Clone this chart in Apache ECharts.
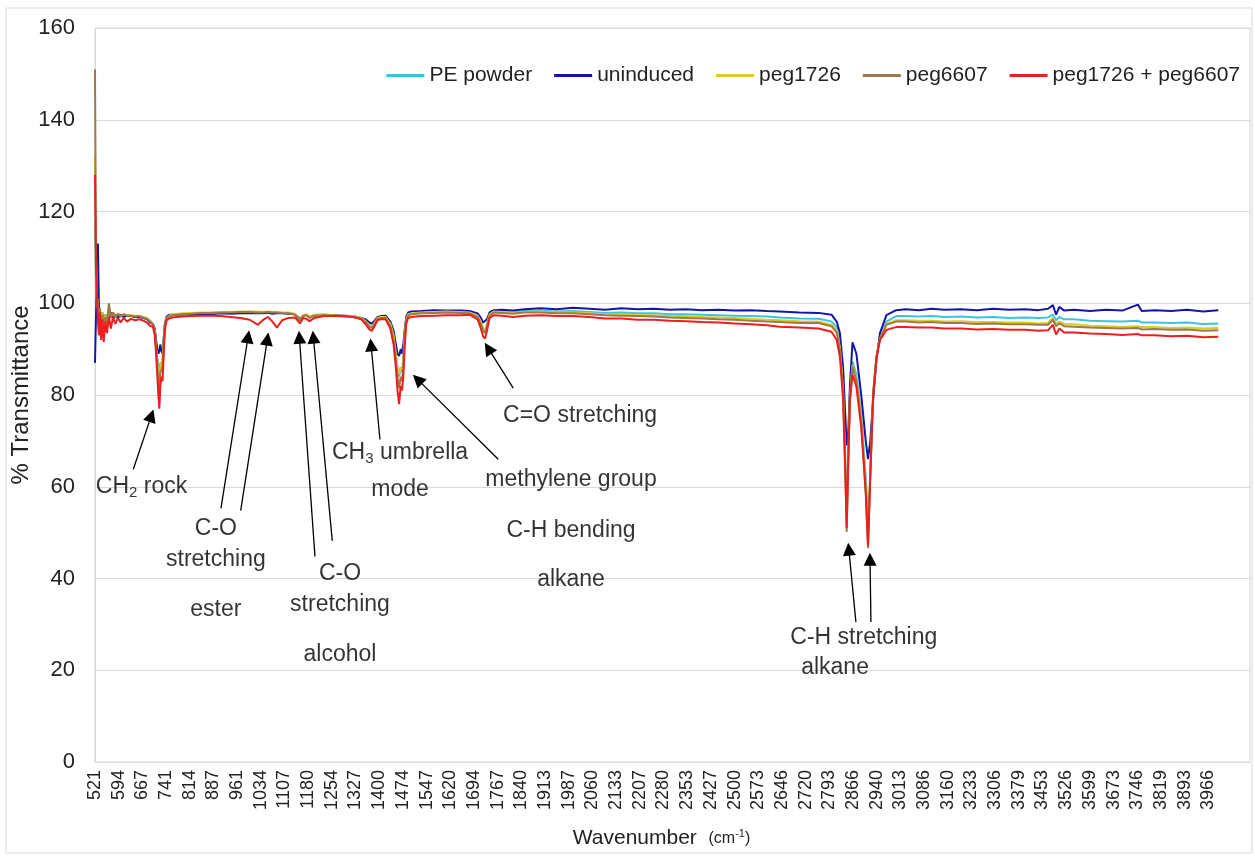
<!DOCTYPE html>
<html>
<head>
<meta charset="utf-8">
<script src="https://cdn.jsdelivr.net/npm/echarts@6/dist/echarts.min.js"></script>
<style>
  html, body { margin: 0; padding: 0; background: #fff; }
  #ftir { width: 1255px; height: 856px; }
</style>
</head>
<body>
<div id="ftir"></div>
<script>
// wavenumber of each sampled point (cm-1), shared by all five spectra
var wavenumbers = [
  521, 524, 527, 530, 533, 536, 540, 544, 548, 553, 558, 564, 570, 577, 584, 592, 600, 610, 620, 632, 645, 658, 670, 682, 692,
  700, 706, 710, 714, 717, 720, 723, 727, 730, 733, 737, 742, 750,
  760, 790, 820, 850, 880, 910, 940, 970, 1000, 1025, 1040, 1056, 1070, 1084, 1100, 1120, 1140, 1155, 1165, 1175, 1185, 1200, 1230, 1260, 1290, 1320, 1345, 1360, 1370, 1378, 1386, 1395, 1405,
  1420, 1435, 1445, 1452, 1457, 1462, 1467, 1471, 1475, 1479, 1484, 1490, 1500,
  1530, 1570, 1610, 1650,
  1680, 1705, 1715, 1722, 1728, 1734, 1742, 1755,
  1780, 1815, 1850, 1900, 1950, 2000, 2050, 2100, 2150, 2200, 2250, 2300, 2350, 2400, 2450, 2500, 2550, 2600, 2640, 2700, 2760, 2800,
  2816, 2826, 2836, 2843, 2847, 2852, 2857, 2865, 2877, 2892, 2906, 2913, 2920, 2929, 2939, 2950, 2970, 3000,
  3030, 3070, 3110, 3150, 3200, 3250, 3300, 3350, 3400, 3440, 3470, 3485, 3495, 3505, 3520, 3550, 3600, 3650, 3700, 3748, 3760, 3800, 3850, 3900, 3950, 3997
];

// % transmittance
var pePowder = [
  118, 104, 99, 101, 97, 99, 96, 98, 95.5, 97.5, 96, 98.5, 97, 97.8, 96.8, 97.6, 97, 97.5, 97.2, 97.3, 97, 97.2, 96.8, 96.6, 96,
  95.5, 94, 91, 88, 86, 84, 87, 86, 85, 90, 95, 96.6, 97.2,
  97.4, 97.6, 97.7, 97.8, 97.8, 97.9, 98.0, 98.0, 98.0, 98.0, 98.0, 97.9, 98.0, 97.9, 97.9, 97.8, 97.6, 96.3, 97.3, 97.5, 96.9, 97.3, 97.4, 97.3, 97.3, 97.1, 96.7, 96.0, 95.2, 95.0, 95.8, 96.8, 97.0,
  97, 95.5, 93, 89, 86, 84, 86, 85, 88, 93, 96.5, 97.5, 97.7,
  97.9, 98.0, 98.1, 98.0,
  98, 97.3, 96, 94.5, 94, 95.5, 97.6, 98.2,
  98.2, 98.0, 98.3, 98.4, 98.2, 98.3, 98.1, 97.9, 98.0, 97.8, 97.8, 97.6, 97.6, 97.5, 97.4, 97.3, 97.2, 97.1, 96.9, 96.7, 96.6, 96.0,
  94.8, 91.5, 83, 66, 55, 68, 80, 87.3, 84.5, 76, 62, 52, 63, 80, 88, 92.5, 96, 97.2,
  97.2, 97.1, 97.2, 97, 97.1, 96.9, 97, 96.8, 96.9, 96.8, 96.9, 97.5, 96.3, 97, 96.5, 96.5, 96.2, 96.1, 96.0, 96.2, 95.8, 95.8, 95.7, 95.8, 95.5, 95.6
];
var uninduced = [
  87, 97, 105, 113, 100, 96, 98, 95, 97.5, 95, 97.5, 96.5, 98, 96.5, 97.5, 96.8, 97.5, 97, 97.3, 97.2, 97, 97, 96.8, 96.5, 95.8,
  95.5, 94.5, 92, 90, 89, 89.5, 91, 89.5, 89, 92, 95.5, 97, 97.5,
  97.5, 97.6, 97.5, 97.7, 97.6, 97.8, 97.7, 97.8, 97.8, 97.9, 97.8, 97.9, 97.7, 97.8, 97.8, 97.7, 97.6, 96.6, 97.3, 97.5, 97.0, 97.4, 97.5, 97.4, 97.3, 97.2, 96.8, 96.4, 95.8, 95.6, 96.2, 97.0, 97.2,
  97.3, 96, 94, 91, 89, 88.5, 90, 89, 91, 94, 97, 98, 98.2,
  98.3, 98.5, 98.4, 98.4,
  98.3, 97.8, 96.8, 95.8, 95.5, 96.5, 98, 98.5,
  98.6, 98.4, 98.7, 98.9, 98.7, 99.0, 98.8, 98.6, 98.9, 98.7, 98.8, 98.6, 98.7, 98.5, 98.6, 98.4, 98.5, 98.3, 98.2, 98.0, 97.9, 97.5,
  96, 93.5, 86, 75, 69, 72, 82, 91.5, 89, 80, 70, 66, 70, 79, 87.6, 93.5, 97.4, 98.5,
  98.7, 98.5, 98.8, 98.6, 98.7, 98.5, 98.8, 98.6, 98.7, 98.5, 98.8, 99.6, 97.5, 99.2, 98.4, 98.6, 98.3, 98.6, 98.4, 99.7, 98.3, 98.5, 98.3, 98.6, 98.2, 98.5
];
var peg1726 = [
  132, 110, 101, 99, 97, 98.5, 96, 98, 95, 97.5, 96, 99.5, 97, 98, 97, 97.8, 97.2, 97.6, 97.4, 97.4, 97.2, 97.3, 97, 96.8, 96.2,
  95.5, 94, 90.5, 87, 84, 82, 86, 87, 88.5, 91, 95, 96.7, 97.3,
  97.6, 97.8, 97.9, 98.0, 98.0, 98.1, 98.1, 98.2, 98.2, 98.2, 98.1, 98.2, 98.1, 98.1, 98.0, 98.0, 97.7, 96.4, 97.4, 97.6, 97.0, 97.5, 97.6, 97.4, 97.3, 97.2, 96.8, 96.0, 95.2, 94.9, 95.8, 96.8, 97.0,
  97, 95.5, 93, 89, 86, 84.5, 86, 85.5, 88, 93, 96.5, 97.6, 97.8,
  98.0, 98.1, 98.2, 98.1,
  98, 97.3, 96, 94.5, 94, 95.5, 97.6, 98.2,
  98.1, 97.9, 98.1, 98.2, 98.0, 98.0, 97.8, 97.6, 97.6, 97.4, 97.4, 97.2, 97.2, 97.0, 96.9, 96.8, 96.6, 96.4, 96.3, 96.1, 96.0, 95.3,
  94, 90.5, 81, 64, 52, 67, 79.5, 86.5, 83.5, 75, 60, 49, 63, 80.5, 88.4, 92.3, 95.5, 96.3,
  96.3, 96.2, 96.2, 96.0, 96.1, 95.9, 95.9, 95.8, 95.8, 95.6, 95.7, 96.8, 95.5, 96, 95.5, 95.4, 95.1, 95.0, 94.9, 95, 94.8, 94.8, 94.6, 94.7, 94.5, 94.6
];
var peg6607 = [
  151, 112, 99, 101, 96, 99, 95.5, 97.5, 94.5, 97, 95.5, 100, 96.8, 98, 97, 97.7, 97.2, 97.6, 97.3, 97.3, 97.1, 97.2, 96.9, 96.6, 96,
  95.5, 93.5, 90, 86, 83, 80, 85, 85, 86, 90, 95, 96.6, 97.2,
  97.4, 97.6, 97.7, 97.9, 97.9, 98.0, 98.0, 98.1, 98.1, 98.0, 98.0, 98.1, 98.0, 98.0, 97.9, 97.8, 97.5, 96.2, 97.2, 97.4, 96.8, 97.3, 97.4, 97.2, 97.1, 97.0, 96.6, 95.8, 94.9, 94.6, 95.5, 96.6, 96.8,
  96.8, 95, 92, 87.5, 84, 81.5, 84, 83, 86, 92, 96.3, 97.3, 97.6,
  97.8, 97.9, 98.0, 97.9,
  97.8, 97, 95.5, 94, 93.5, 95, 97.3, 98,
  97.9, 97.7, 98.0, 98.0, 97.8, 97.8, 97.6, 97.4, 97.3, 97.2, 97.1, 96.9, 96.8, 96.7, 96.5, 96.4, 96.2, 96.0, 95.9, 95.7, 95.7, 95.0,
  93.6, 90, 80, 63, 50.2, 66, 79, 86.2, 83, 74, 59, 46.6, 62.5, 80.4, 88.4, 92.2, 95.3, 96,
  96, 95.8, 95.9, 95.7, 95.7, 95.5, 95.6, 95.4, 95.4, 95.3, 95.3, 96.4, 95, 95.6, 95.0, 94.9, 94.7, 94.6, 94.5, 94.6, 94.3, 94.4, 94.2, 94.3, 94.0, 94.1
];
var pegBoth = [
  128, 108, 102, 96, 93, 98, 92, 96.5, 91.5, 96, 93.5, 97, 94.5, 97, 95.5, 96.8, 95.8, 96.8, 96, 96.6, 96.3, 96.5, 96.2, 95.8, 95,
  95, 93, 89, 84, 80, 77, 82, 84, 83, 88, 94, 96.2, 96.7,
  96.9, 97.1, 97.2, 97.3, 97.3, 97.2, 97.0, 96.8, 96.4, 95.3, 96.3, 97.0, 96.0, 94.7, 96.3, 96.8, 96.9, 95.6, 96.8, 96.6, 96.1, 96.8, 97.2, 97.3, 97.2, 97.0, 96.5, 95.3, 94.3, 94.0, 95.0, 96.3, 96.5,
  96.5, 94.5, 91, 86, 81, 78, 82, 81, 84, 90, 95.5, 96.8, 97,
  97.2, 97.3, 97.4, 97.4,
  97.5, 96.5, 94.5, 92.8, 92.3, 94, 96.8, 97.4,
  97.3, 97.0, 97.3, 97.4, 97.2, 97.2, 97.0, 96.7, 96.7, 96.4, 96.4, 96.2, 96.1, 95.9, 95.8, 95.6, 95.4, 95.2, 94.9, 94.7, 94.5, 93.8,
  92, 88.4, 78.9, 62.2, 51, 65.8, 78.9, 84.4, 81.8, 73, 58.6, 47.2, 62.2, 80, 88, 92, 94.2, 94.8,
  94.8, 94.7, 94.7, 94.5, 94.5, 94.3, 94.4, 94.2, 94.2, 94.0, 94.1, 95.3, 93.2, 94.5, 93.6, 93.6, 93.4, 93.3, 93.1, 93.3, 93.0, 93.0, 92.8, 92.9, 92.6, 92.7
];

var seriesNames = ['PE powder', 'uninduced', 'peg1726', 'peg6607', 'peg1726 + peg6607'];

// labels printed under the x axis
var tickLabels = [
  '521', '594', '667', '741', '814', '887', '961', '1034', '1107', '1180', '1254', '1327',
  '1400', '1474', '1547', '1620', '1694', '1767', '1840', '1913', '1987', '2060', '2133', '2207',
  '2280', '2353', '2427', '2500', '2573', '2646', '2720', '2793', '2866', '2940', '3013', '3086',
  '3160', '3233', '3306', '3379', '3453', '3526', '3599', '3673', '3746', '3819', '3893', '3966'
];

// peak annotations: [wavenumber, %T, text]
var notes = [
  [665, 60.0, 'CH{sub|2} rock'],
  [895, 50.9, 'C-O'], [895, 44.0, 'stretching'], [895, 33.1, 'ester'],
  [1279, 41.1, 'C-O'], [1279, 34.2, 'stretching'], [1279, 23.3, 'alcohol'],
  [1465, 67.4, 'CH{sub|3} umbrella'], [1465, 59.4, 'mode'],
  [2022, 75.6, 'C=O stretching'],
  [1994, 61.5, 'methylene group'], [1994, 50.4, 'C-H bending'], [1994, 39.7, 'alkane'],
  [2900, 27.0, 'C-H stretching'], [2811, 20.5, 'alkane']
];
// arrows: [from x, from y, to x, to y]
var arrows = [
  [639.5, 63.8, 695.5, 75.5],
  [910.8, 55.3, 994.7, 92.7],
  [971.8, 54.8, 1054.4, 92.2],
  [1201.7, 44.8, 1153.4, 92.6],
  [1255.2, 48.2, 1196.7, 92.6],
  [1402.8, 70.3, 1375.3, 90.9],
  [1768.8, 66.0, 1519.1, 83.4],
  [1815.2, 81.5, 1737.6, 90.2],
  [2875.5, 30.5, 2853.6, 46.4],
  [2922, 30.5, 2919.2, 44.2]
];

var colors = ['#3cc3de', '#1616a6', '#d9cc2c', '#9c7a4b', '#ec1e1e'];
var spectra = [pePowder, uninduced, peg1726, peg6607, pegBoth];
var font = 'Liberation Sans, Arial, sans-serif';

var myChart = echarts.init(document.getElementById('ftir'));

var series = spectra.map(function (vals, i) {
  return {
    name: seriesNames[i],
    type: 'line',
    showSymbol: false,
    animation: false,
    lineStyle: { width: 2, color: colors[i] },
    itemStyle: { color: colors[i] },
    data: wavenumbers.map(function (w, j) { return [w, vals[j]]; })
  };
});

series.push({
  name: 'notes',
  type: 'scatter',
  symbolSize: 1,
  silent: true,
  animation: false,
  itemStyle: { color: 'rgba(0,0,0,0)' },
  label: {
    show: true,
    position: 'inside',
    formatter: function (p) { return p.name; },
    color: '#000',
    fontFamily: font,
    fontSize: 23,
    rich: {
      sub: { fontSize: 15, color: '#000', fontFamily: font, padding: [13, 0, 0, 0] }
    }
  },
  data: notes.map(function (n) { return { name: n[2], value: [n[0], n[1]] }; }),
  markLine: {
    silent: true,
    animation: false,
    symbol: ['none', 'triangle'],
    symbolSize: 13,
    label: { show: false },
    lineStyle: { color: '#000', width: 1.3, type: 'solid' },
    data: arrows.map(function (a) {
      return [{ coord: [a[0], a[1]] }, { coord: [a[2], a[3]] }];
    })
  }
});

var option = {
  animation: false,
  textStyle: { fontFamily: font },
  graphic: [{
    type: 'rect',
    shape: { x: 6, y: 8, width: 1246, height: 845 },
    style: { fill: 'none', stroke: '#d9d9d9', lineWidth: 1 },
    silent: true
  }],
  grid: {
    left: 95, right: 5, top: 28, bottom: 94,
    outerBoundsMode: 'none',
    containLabel: false,
    show: true, borderColor: '#d9d9d9', borderWidth: 1
  },
  legend: {
    data: seriesNames,
    right: 10,
    top: 60,
    icon: 'rect',
    itemWidth: 38,
    itemHeight: 3,
    itemGap: 22,
    textStyle: { fontSize: 21, color: '#222', fontFamily: font }
  },
  xAxis: {
    type: 'value',
    min: 521,
    max: 4095,
    name: 'Wavenumber  {s|(cm}{sup|-1}{s|)}',
    nameLocation: 'middle',
    nameGap: 66,
    nameTextStyle: {
      fontSize: 21, color: '#222', fontFamily: font, padding: [0, 22, 0, 0],
      rich: {
        s: { fontSize: 16, color: '#222', fontFamily: font },
        sup: { fontSize: 11, color: '#222', fontFamily: font, padding: [0, 0, 9, 0] }
      }
    },
    axisLine: { lineStyle: { color: '#d9d9d9' } },
    axisTick: { show: false },
    splitLine: { show: false },
    axisLabel: {
      customValues: tickLabels.map(Number),
      rotate: 90,
      margin: 8,
      fontSize: 18,
      color: '#222',
      fontFamily: font,
      formatter: function (v) { return String(Math.round(v)); }
    }
  },
  yAxis: {
    type: 'value',
    min: 0,
    max: 160,
    interval: 20,
    name: '% Transmittance',
    nameLocation: 'middle',
    nameGap: 62,
    nameMoveOverlap: false,
    nameTextStyle: { fontSize: 24, color: '#222', fontFamily: font },
    axisLine: { show: true, lineStyle: { color: '#d9d9d9' } },
    axisTick: { show: false },
    splitLine: { lineStyle: { color: '#d9d9d9' } },
    axisLabel: { fontSize: 22, color: '#222', margin: 20, fontFamily: font }
  },
  series: series
};

myChart.setOption(option);
</script>
</body>
</html>
